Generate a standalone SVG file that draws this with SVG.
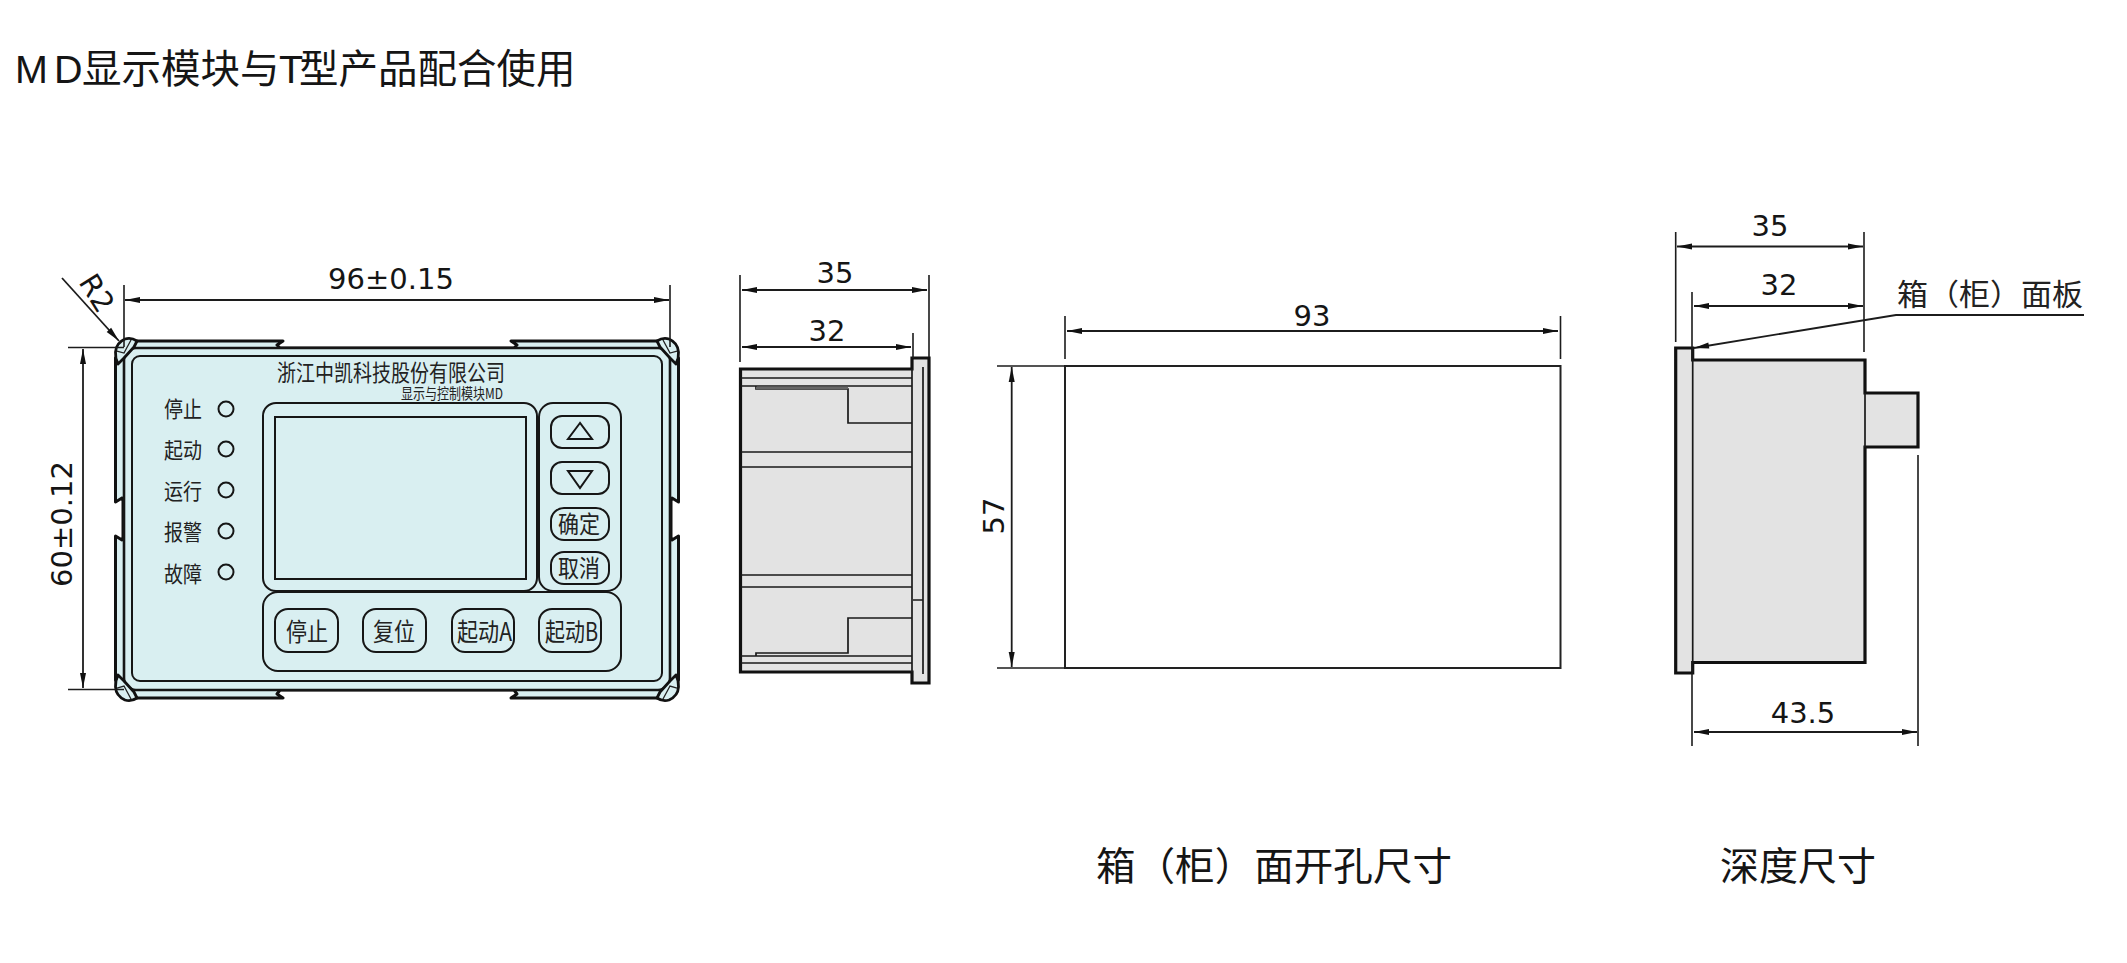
<svg xmlns="http://www.w3.org/2000/svg" xmlns:xlink="http://www.w3.org/1999/xlink" width="2127" height="963" viewBox="0 0 2127 963">
<style>
.t{font-family:"Liberation Sans","Noto Sans CJK SC",sans-serif;fill:#151515}
.cjk{font-family:"Noto Sans CJK SC",sans-serif;fill:#222}
.dim{font-family:"DejaVu Sans",sans-serif;font-size:29px;fill:#151515;text-anchor:middle}
.d{stroke:#1c1c1c;stroke-width:1.8;fill:none}
.a{marker-start:url(#arr);marker-end:url(#arr)}
.e{stroke:#1c1c1c;stroke-width:1.6;fill:none}
.p{fill:#d9eff1;stroke:#161616;stroke-width:2}
.k{fill:none;stroke:#161616;stroke-width:2}
.h{fill:#e3e3e3;stroke:#111;stroke-width:3.2}
.l{fill:none;stroke:#1a1a1a;stroke-width:1.7}
.lab{font-size:22px}
.btn{font-size:25px}
</style>
<defs>
<marker id="arr" markerUnits="userSpaceOnUse" markerWidth="18" markerHeight="10" refX="15" refY="4" orient="auto-start-reverse" overflow="visible"><path d="M0,1 L15,4 L0,7 Z" fill="#111"/></marker>
<g id="corner">
<path d="M137,341 Q131,337 125,339 Q116,343 115.5,352 Q115,358 118,364 L124,358 L134,347 Z" fill="#d9eff1" stroke="#111" stroke-width="2.8" stroke-linejoin="round"/>
<path d="M117,351 L124,353 L131,340" fill="none" stroke="#222" stroke-width="1.3"/>
</g>
</defs>
<rect width="2127" height="963" fill="#fff"/>
<text id="title" class="t" y="83" font-size="39.5"><tspan x="15">M</tspan><tspan x="54">D</tspan><tspan x="82">显示模块与</tspan><tspan x="279">T</tspan><tspan x="299">型产品配合使用</tspan></text>
<g id="panel">
<path d="M137,341 H283 L277,345 L280,348 H514 L517,345 L511,341 H660 L678.5,358 V502 L672,498 L671,501 V537 L672,540 L678.5,536 V680 L660,698 H511 L517,694 L514,690 H280 L277,694 L283,698 H137 L115.5,680 V536 L122,540 L123,537 V501 L122,498 L115.5,502 V358 Z" fill="#d9eff1" stroke="#111" stroke-width="3" stroke-linejoin="round"/>
<rect x="124" y="348" width="546" height="342" rx="12" fill="#d9eff1" stroke="#161616" stroke-width="2.6"/>
<rect x="132" y="356" width="530" height="325" rx="8" class="p"/>
<use xlink:href="#corner" href="#corner"/>
<use xlink:href="#corner" href="#corner" transform="matrix(-1 0 0 1 794 0)"/>
<use xlink:href="#corner" href="#corner" transform="matrix(1 0 0 -1 0 1039)"/>
<use xlink:href="#corner" href="#corner" transform="matrix(-1 0 0 -1 794 1039)"/>
<text class="cjk" x="277" y="381" font-size="23" textLength="228" lengthAdjust="spacingAndGlyphs">浙江中凯科技股份有限公司</text>
<text class="cjk" x="401" y="398.5" font-size="15" textLength="102" lengthAdjust="spacingAndGlyphs">显示与控制模块MD</text>
</g>
<g id="leds">
<g id="led1"><text class="cjk lab" x="164" y="417" textLength="38" lengthAdjust="spacingAndGlyphs">停止</text><circle cx="226" cy="409" r="7.5" class="k"/></g>
<g id="led2"><text class="cjk lab" x="164" y="458" textLength="38" lengthAdjust="spacingAndGlyphs">起动</text><circle cx="226" cy="449" r="7.5" class="k"/></g>
<g id="led3"><text class="cjk lab" x="164" y="499" textLength="38" lengthAdjust="spacingAndGlyphs">运行</text><circle cx="226" cy="490" r="7.5" class="k"/></g>
<g id="led4"><text class="cjk lab" x="164" y="540" textLength="38" lengthAdjust="spacingAndGlyphs">报警</text><circle cx="226" cy="531" r="7.5" class="k"/></g>
<g id="led5"><text class="cjk lab" x="164" y="582" textLength="38" lengthAdjust="spacingAndGlyphs">故障</text><circle cx="226" cy="572" r="7.5" class="k"/></g>
</g>
<g id="screen-housing"><rect x="263" y="403" width="274" height="188" rx="13" class="k"/><rect x="275" y="417" width="251" height="162" class="k" stroke-width="2.4"/></g>
<g id="side-keys"><rect x="539" y="403" width="82" height="188" rx="14" class="k"/>
<g id="key-up"><rect x="551" y="416" width="58" height="32" rx="11" class="k"/><path d="M580,423 L568,439 H592 Z" class="k"/></g>
<g id="key-down"><rect x="551" y="462" width="58" height="32" rx="11" class="k"/><path d="M568,471 H592 L580,488 Z" class="k"/></g>
<g id="key-ok"><rect x="551" y="508" width="58" height="32" rx="13" class="k"/><text class="cjk" x="558" y="533" font-size="24" textLength="42" lengthAdjust="spacingAndGlyphs">确定</text></g>
<g id="key-cancel"><rect x="551" y="552" width="58" height="32" rx="13" class="k"/><text class="cjk" x="558" y="577" font-size="24" textLength="42" lengthAdjust="spacingAndGlyphs">取消</text></g>
</g>
<g id="bottom-keys"><rect x="263" y="592" width="358" height="79" rx="15" class="k"/>
<g id="key-stop"><rect x="275" y="609" width="63" height="43" rx="13" class="k"/><text class="cjk btn" x="286" y="641" textLength="42" lengthAdjust="spacingAndGlyphs">停止</text></g>
<g id="key-reset"><rect x="363" y="609" width="63" height="43" rx="13" class="k"/><text class="cjk btn" x="373" y="641" textLength="42" lengthAdjust="spacingAndGlyphs">复位</text></g>
<g id="key-a"><rect x="452" y="609" width="62" height="43" rx="13" class="k"/><text class="cjk btn" x="457" y="641" textLength="55" lengthAdjust="spacingAndGlyphs">起动A</text></g>
<g id="key-b"><rect x="539" y="609" width="62" height="43" rx="13" class="k"/><text class="cjk btn" x="545" y="641" textLength="53" lengthAdjust="spacingAndGlyphs">起动B</text></g>
</g>
<g id="side-view">
<path d="M740.5,369 H912 V358 H929 V683 H912 V672 H740.5 Z" class="h"/>
<path d="M912,369 V672 M923,367 V674 M913,600 H923 M741,378 H912 M741,386 H912 M756,386 V389 H848 V423 H912 M741,452 H912 M741,467 H912 M741,575 H912 M741,587 H912 M912,618 H848 V653 H756 V656 M741,656 H912 M741,663 H912" class="l"/>
<path d="M756,388 H848" stroke="#666" stroke-width="2.5" fill="none"/>
</g>
<g id="cutout"><rect x="1065" y="366" width="495.5" height="302" fill="#fff" stroke="#222" stroke-width="2"/></g>
<g id="depth-view">
<path d="M1692.7,348 H1675.7 V673 H1692.7 V662.5 H1865 V447 H1918 V393 H1865 V360 H1692.7 Z" class="h"/>
<path d="M1692.7,348 V673 M1865,393 V447" class="l"/>
</g>
<g id="connectors">
<path d="M124,285 V347 M670,285 V347 M68,347.5 H124 M68,689.5 H124" class="e"/>
<path d="M125,300 H669" class="d a"/>
<path d="M83,349 V688" class="d a"/>
<path d="M62,278 L119,341" class="d" marker-end="url(#arr)"/>
<path d="M740,275 V362 M929,275 V357 M913,333 V358" class="e"/>
<path d="M742,290 H927" class="d a"/>
<path d="M742,347 H911" class="d a"/>
<path d="M1065,316 V359 M1560.5,316 V359 M997,366 H1065 M997,668 H1065" class="e"/>
<path d="M1067,331 H1558" class="d a" stroke-width="2.4"/>
<path d="M1011.7,367 V667" class="d a"/>
<path d="M1675.7,232 V342 M1864,232 V352 M1692,292 V348 M1692,673 V746 M1918,455 V746" class="e"/>
<path d="M1677,246.5 H1863" class="d a"/>
<path d="M1694,306 H1863" class="d a"/>
<path d="M1694,732 H1917" class="d a"/>
<path d="M2084,315 H1896 L1694,348" class="d" marker-end="url(#arr)"/>
</g>
<g id="labels">
<text class="dim" x="391" y="289">96±0.15</text>
<text class="dim" transform="translate(72 524) rotate(-90)">60±0.12</text>
<text class="dim" transform="translate(83 290) rotate(58)" x="10" y="0">R2</text>
<text class="dim" x="835" y="283">35</text>
<text class="dim" x="827" y="341">32</text>
<text class="dim" x="1312" y="326">93</text>
<text class="dim" transform="translate(1004 516) rotate(-90)">57</text>
<text class="dim" x="1770" y="236">35</text>
<text class="dim" x="1779" y="295">32</text>
<text class="dim" x="1803" y="723">43.5</text>
<text class="cjk" x="1897" y="305" font-size="30" textLength="186" lengthAdjust="spacingAndGlyphs" fill="#151515">箱（柜）面板</text>
<text class="t" x="1096" y="880" font-size="39" textLength="356" lengthAdjust="spacingAndGlyphs">箱（柜）面开孔尺寸</text>
<text class="t" x="1720" y="880" font-size="39">深度尺寸</text>
</g>
</svg>
